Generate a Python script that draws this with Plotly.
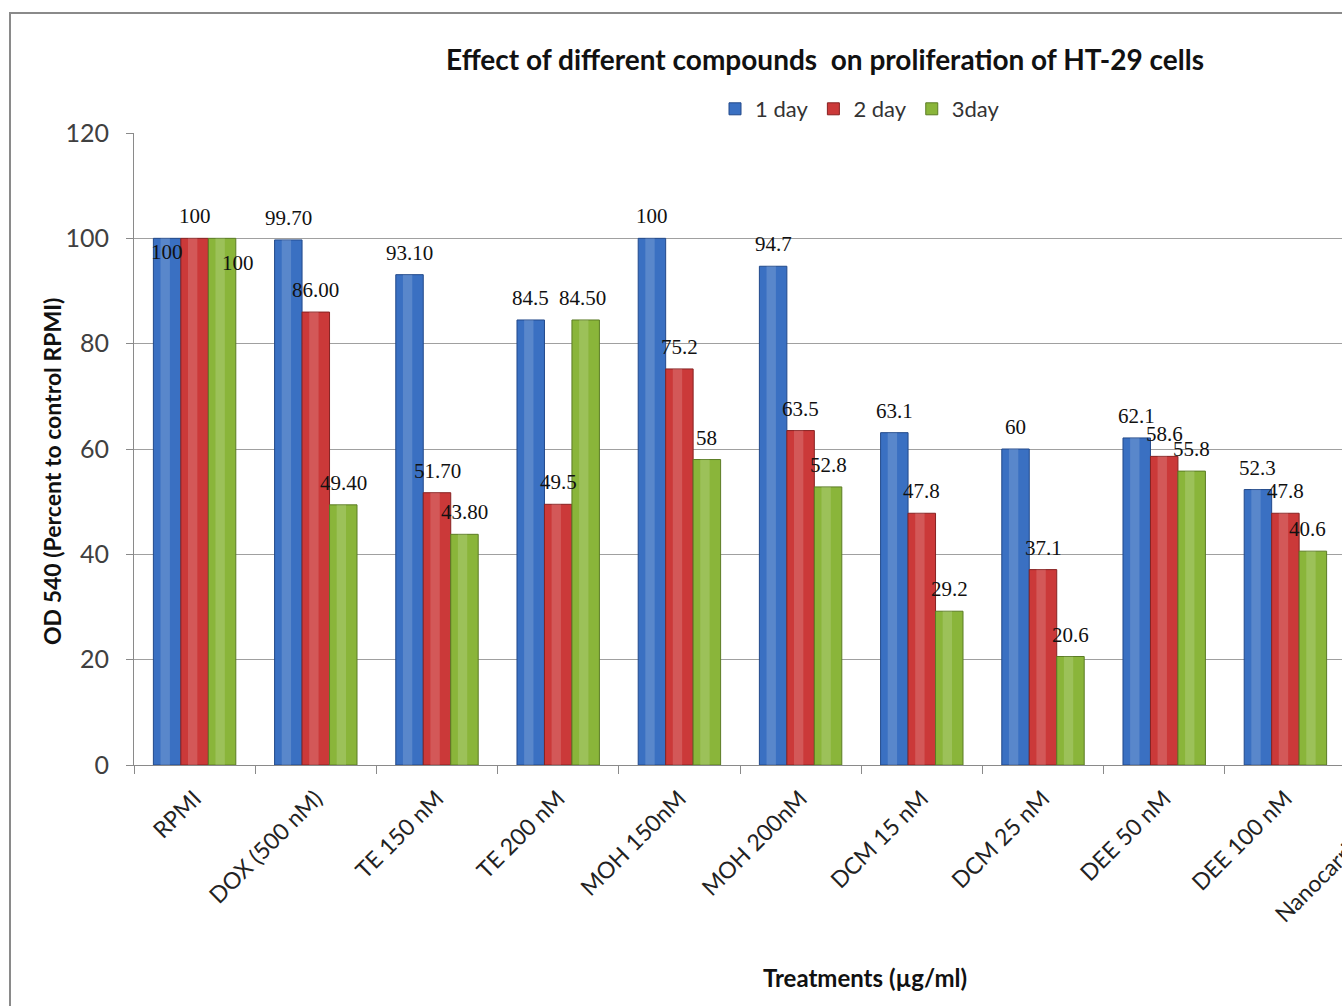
import plotly.graph_objects as go

# ---------------- data ----------------
categories = ["RPMI", "DOX (500 nM)", "TE 150 nM", "TE 200 nM", "MOH 150nM",
              "MOH 200nM", "DCM 15 nM", "DCM 25 nM", "DEE 50 nM", "DEE 100 nM"]
cut_category = "Nanocarrier"   # partly visible at the right edge (cropped)

series_names = ["1 day", "2 day", "3day"]
day1 = [100, 99.70, 93.10, 84.5, 100, 94.7, 63.1, 60, 62.1, 52.3]
day2 = [100, 86.00, 51.70, 49.5, 75.2, 63.5, 47.8, 37.1, 58.6, 47.8]
day3 = [100, 49.40, 43.80, 84.50, 58, 52.8, 29.2, 20.6, 55.8, 40.6]
day1_text = ["100", "99.70", "93.10", "84.5", "100", "94.7", "63.1", "60", "62.1", "52.3"]
day2_text = ["100", "86.00", "51.70", "49.5", "75.2", "63.5", "47.8", "37.1", "58.6", "47.8"]
day3_text = ["100", "49.40", "43.80", "84.50", "58", "52.8", "29.2", "20.6", "55.8", "40.6"]
y_ticks = [0, 20, 40, 60, 80, 100, 120]

# ---------------- style ----------------
colors = ["#3a70c2", "#cb3939", "#8ab53a"]
edge_colors = ["#22498a", "#872222", "#5b7c24"]
label_dx = [[0] * 10, [0] * 10, [16, 0, 0, -3, 0, 0, 0, 0, 0, -5]]
label_dy = [[-14] + [22] * 9, [22] * 10, [-25] + [22] * 9]

W, H = 1342, 1006
ML, MR = 134, 0
MT = 133
MB = H - 765
PW, PH = W - ML - MR, H - MT - MB
cat_px = 121.2
x_max = -0.5 + PW / cat_px
bargap = 0.32
bw = (1 - bargap) / 3


def px_x(page_x):
    return (page_x - ML) / PW


def px_y(page_y):
    return (H - MB - page_y) / PH


fig = go.Figure()
all_vals = [day1, day2, day3]
all_text = [day1_text, day2_text, day3_text]
for i, name in enumerate(series_names):
    start = -(1 - bargap) / 2 + i * bw
    fig.add_trace(go.Bar(
        x=categories, y=all_vals[i], name=name,
        width=bw, offset=start,
        marker=dict(color=colors[i], line=dict(color=edge_colors[i], width=1)),
        hoverinfo="x+y+name",
    ))
    # soft highlight strip to suggest the cylinder shading
    fig.add_trace(go.Bar(
        x=categories, y=all_vals[i], name=name, showlegend=False,
        width=bw * 0.34, offset=start + bw * 0.26,
        marker=dict(color="rgba(255,255,255,0.16)", line=dict(width=0)),
        hoverinfo="skip",
    ))

# data labels
annotations = []
for i in range(3):
    off = (i - 1) * bw
    for k, (v, t) in enumerate(zip(all_vals[i], all_text[i])):
        annotations.append(dict(
            x=k + off, y=v, xref="x", yref="y", text=t, showarrow=False,
            xanchor="center", yanchor="middle",
            xshift=label_dx[i][k], yshift=label_dy[i][k],
            font=dict(family="Liberation Serif", size=21, color="#111111"),
        ))

# cropped category label at the right edge (its tick is outside the visible range)
annotations.append(dict(
    x=px_x(1266), y=px_y(930), xref="paper", yref="paper",
    text=cut_category, showarrow=False, textangle=-45,
    xanchor="left", yanchor="bottom",
    font=dict(family="Lato", size=23, color="#222222"),
))

# axis titles
annotations.append(dict(
    x=px_x(52), y=px_y(472), xref="paper", yref="paper",
    text="<b>OD 540 (Percent to control RPMI)</b>", showarrow=False,
    textangle=-90, xanchor="center", yanchor="middle",
    font=dict(family="Lato", size=23, color="#111111"),
))
annotations.append(dict(
    x=px_x(865), y=px_y(977), xref="paper", yref="paper",
    text="<b>Treatments (µg/ml)</b>", showarrow=False,
    xanchor="center", yanchor="middle",
    font=dict(family="Lato", size=24, color="#111111"),
))

# outer chart border (extends beyond the cropped image)
shapes = [dict(
    type="rect", xref="paper", yref="paper",
    x0=px_x(10), x1=px_x(1400), y0=px_y(1100), y1=px_y(13),
    line=dict(color="#8a8a8a", width=2), fillcolor="rgba(0,0,0,0)", layer="below",
)]

fig.update_layout(
    width=W, height=H,
    margin=dict(l=ML, r=MR, t=MT, b=MB, autoexpand=False),
    paper_bgcolor="white", plot_bgcolor="white",
    barmode="overlay",
    title=dict(
        text="<b>Effect of different compounds  on proliferation of HT-29 cells</b>",
        x=825 / W, xanchor="center", xref="container",
        y=1 - 60 / H, yanchor="middle", yref="container",
        font=dict(family="Lato", size=28, color="#111111"),
    ),
    legend=dict(
        orientation="h", x=px_x(860), xanchor="center",
        y=px_y(109), yanchor="middle",
        font=dict(family="Lato", size=22, color="#333333"),
        itemwidth=30, tracegroupgap=0, bgcolor="rgba(0,0,0,0)",
    ),
    xaxis=dict(
        type="category", range=[-0.5, x_max],
        tickangle=-45, tickson="boundaries", ticks="outside", ticklen=8,
        tickcolor="#8a8a8a", showline=True, linecolor="#8a8a8a", linewidth=1,
        tickfont=dict(family="Lato", size=23, color="#222222"),
        ticklabelstandoff=10,
        showgrid=False,
    ),
    yaxis=dict(
        range=[0, 120], tickvals=y_ticks, ticks="outside", ticklen=7,
        tickcolor="#8a8a8a", showline=True, linecolor="#8a8a8a", linewidth=1,
        gridcolor="#a0a0a0", gridwidth=1, zeroline=False,
        tickfont=dict(family="Lato", size=25, color="#404040"),
        ticklabelstandoff=12,
    ),
    annotations=annotations,
    shapes=shapes,
    showlegend=True,
)

fig.write_html(
    "out.html",
    config={"displayModeBar": False},
    post_script=("document.body.style.margin='0';"
                 "document.body.style.overflow='hidden';"
                 "document.documentElement.style.overflow='hidden';"),
)
